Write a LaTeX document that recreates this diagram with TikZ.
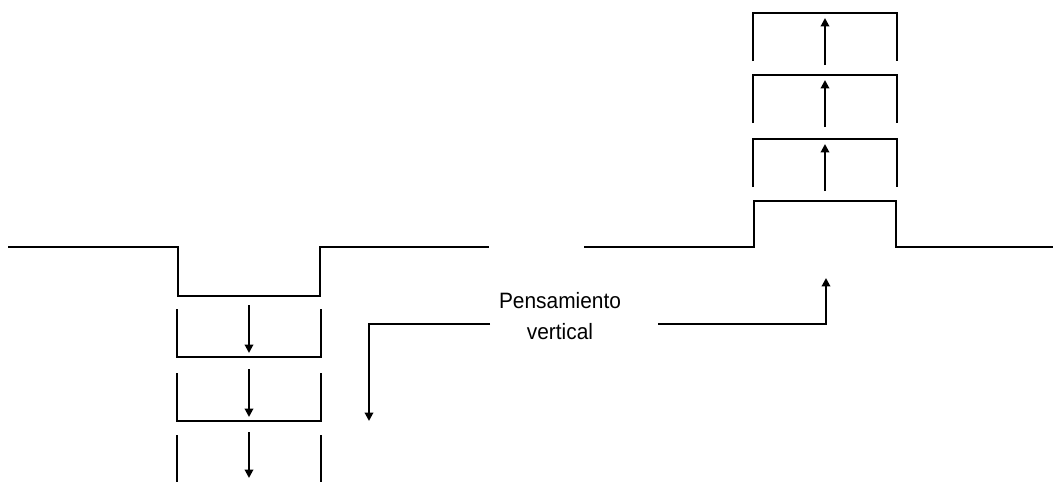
\documentclass[tikz,border=0pt]{standalone}
\usepackage{fontspec}
\setmainfont{Liberation Sans}
\usetikzlibrary{arrows.meta}
\begin{document}
\begin{tikzpicture}[x=0.025cm, y=-0.025cm,
  line/.style={line width=1.4pt, line join=miter},
  flow/.style={line width=1.4pt, -{Triangle[length=6pt,width=6pt]}}]
\useasboundingbox (0,0) rectangle (1055,482);

% Left profile: the dip
\draw[line] (8,247) -- (178,247) -- (178,296) -- (320,296) -- (320,247) -- (489,247);
% Right profile: the step
\draw[line] (584,247) -- (754,247) -- (754,201) -- (896,201) -- (896,247) -- (1053,247);

% Left brackets, going down
\foreach \t/\b in {309/357, 373/421}
  \draw[line] (177,\t) -- (177,\b) -- (321,\b) -- (321,\t);
\draw[line] (177,435) -- (177,482);
\draw[line] (321,435) -- (321,482);
\foreach \s/\e in {305/353, 369/417, 432/478}
  \draw[flow] (249,\s) -- (249,\e);

% Right brackets, going up
\foreach \t/\b in {139/187, 75/123, 13/61}
  \draw[line] (753,\b) -- (753,\t) -- (897,\t) -- (897,\b);
\foreach \s/\e in {191/144, 127/80, 65/18}
  \draw[flow] (825,\s) -- (825,\e);

% Label and the two bent arrows
\node[align=center, xscale=0.94, transform shape,
  font=\fontsize{15.8}{22}\selectfont] (pv) at (560,316)
  {Pensamiento\\vertical};
\coordinate (lbeg) at (490,324);
\coordinate (lend) at (369,421);
\coordinate (rbeg) at (658,324);
\coordinate (rend) at (826,278);
\draw[flow] (lbeg) -| (lend);
\draw[flow] (rbeg) -| (rend);
\end{tikzpicture}
\end{document}
